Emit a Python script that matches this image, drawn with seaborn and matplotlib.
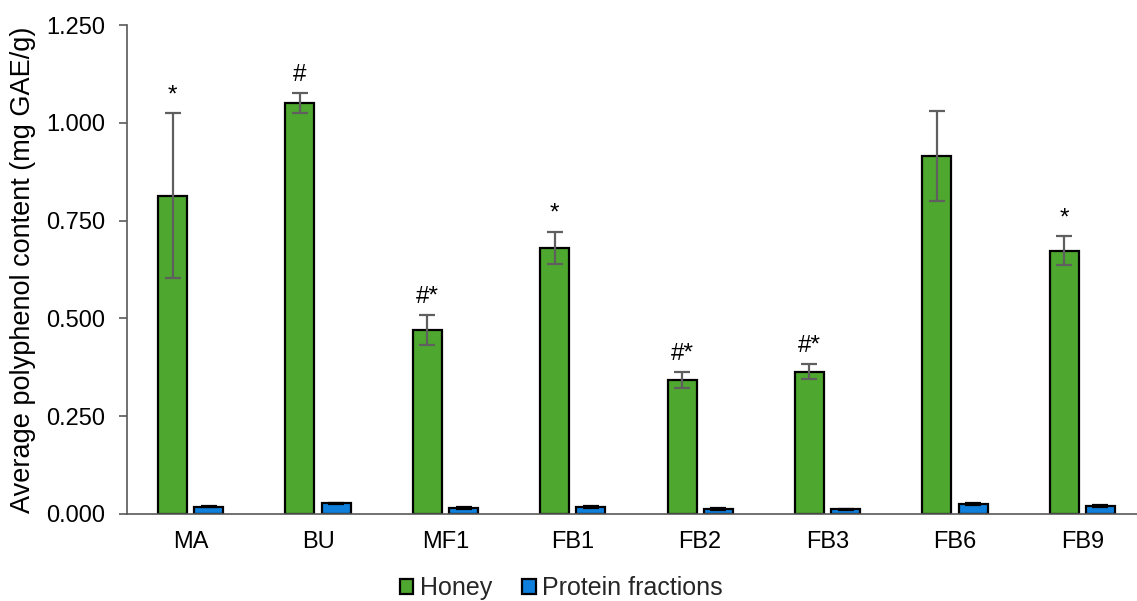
import numpy as np
import pandas as pd
import seaborn as sns
import matplotlib.pyplot as plt
from matplotlib.ticker import FixedLocator, FormatStrFormatter
from matplotlib.patches import Patch

samples = ["MA", "BU", "MF1", "FB1", "FB2", "FB3", "FB6", "FB9"]
honey = [0.814, 1.050, 0.470, 0.680, 0.342, 0.364, 0.915, 0.673]
honey_err = [0.210, 0.026, 0.039, 0.042, 0.020, 0.020, 0.114, 0.037]
protein = [0.019, 0.027, 0.016, 0.018, 0.013, 0.012, 0.025, 0.020]
protein_err = [0.002, 0.002, 0.002, 0.002, 0.002, 0.002, 0.002, 0.002]
honey_marks = ["*", "#", "#*", "*", "#*", "#*", "", "*"]
series = ["Honey", "Protein fractions"]
colors = ["#4ea72e", "#0f7fdc"]

df = pd.DataFrame({
    "sample": samples * 2,
    "value": honey + protein,
    "err": honey_err + protein_err,
    "series": [series[0]] * len(samples) + [series[1]] * len(samples),
})

sns.set_theme(style="white")
plt.rcParams["font.family"] = ["Liberation Sans", "DejaVu Sans"]

fig = plt.figure(figsize=(11.37, 6.01), dpi=100)
ax = fig.add_axes([127 / 1137, 87 / 601, 1019 / 1137, 489 / 601])

sns.barplot(data=df, x="sample", y="value", hue="series", order=samples,
            hue_order=series, palette=colors, saturation=1, errorbar=None,
            width=0.57, gap=0.2, edgecolor="black", linewidth=1.6, ax=ax,
            legend=False)

# error bars and significance marks at each bar's own position
bars = [p for p in ax.patches if p.get_height() > 0]
bars_by_series = [sorted(bars[:len(samples)], key=lambda b: b.get_x()),
                  sorted(bars[len(samples):], key=lambda b: b.get_x())]
for s, errs in enumerate([honey_err, protein_err]):
    for i, b in enumerate(bars_by_series[s]):
        cx = b.get_x() + b.get_width() / 2
        h = b.get_height()
        ax.errorbar(cx, h, yerr=errs[i], fmt="none",
                    ecolor="#5f5f5f" if s == 0 else "black",
                    elinewidth=1.6, capsize=6, capthick=1.6, zorder=4)
        if s == 0 and honey_marks[i]:
            ax.annotate(honey_marks[i], (cx, h + errs[i]), xytext=(0, 5),
                        textcoords="offset points", ha="center", va="bottom",
                        fontsize=17.5, color="black")

ax.set_ylim(0, 1.25)
ax.set_xlim(-0.5, len(samples) - 0.5)
ax.yaxis.set_major_locator(FixedLocator([0, 0.25, 0.5, 0.75, 1.0, 1.25]))
ax.yaxis.set_major_formatter(FormatStrFormatter("%.3f"))
ax.set_xticks(np.arange(len(samples)))
ax.set_xticklabels(samples)
ax.set_xticks(np.arange(len(samples) + 1) - 0.5, minor=True)
ax.tick_params(axis="x", which="major", length=0, pad=12, labelsize=17,
               labelcolor="black")
ax.tick_params(axis="x", which="minor", length=6, width=1.2, color="#595959",
               direction="out")
ax.tick_params(axis="y", which="major", length=6, width=1.2, color="#595959",
               direction="out", left=True, pad=10, labelsize=17,
               labelcolor="black")
ax.set_xlabel("")
ax.set_ylabel("Average polyphenol content (mg GAE/g)", fontsize=19.5,
              color="black", labelpad=7)

for side in ["top", "right"]:
    ax.spines[side].set_visible(False)
for side in ["left", "bottom"]:
    ax.spines[side].set_color("#595959")
    ax.spines[side].set_linewidth(1.2)

handles = [Patch(facecolor=c, edgecolor="black", linewidth=1.6) for c in colors]
fig.legend(handles, series, loc="center", bbox_to_anchor=(561 / 1137, 1 - 588 / 601),
           ncol=2, frameon=False, fontsize=18, handlelength=0.55,
           handleheight=0.55, handletextpad=0.25, columnspacing=1.2,
           borderaxespad=0, borderpad=0)

fig.savefig("out.png", dpi=100)
